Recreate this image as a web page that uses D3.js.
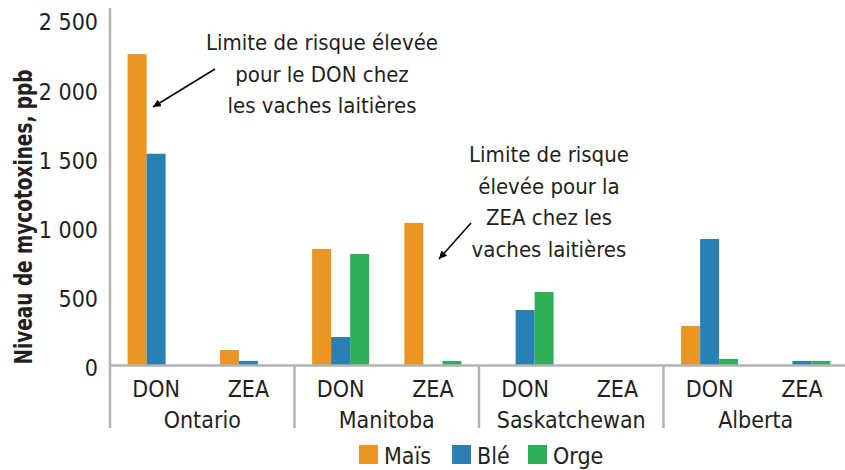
<!DOCTYPE html>
<html>
<head>
<meta charset="utf-8">
<script src="https://cdn.jsdelivr.net/npm/d3@7"></script>
<style>
  body { margin: 0; background: #fff; }
  svg text { font-family: "DejaVu Sans Condensed", "Liberation Sans Narrow", sans-serif; fill: #231f20; }
</style>
</head>
<body>
<div class="chart"></div>
<script>
// data
let provinces = ["Ontario", "Manitoba", "Saskatchewan", "Alberta"];
let toxins = ["DON", "ZEA"];
let series = ["Maïs", "Blé", "Orge"];
let colors = ["#ea9624", "#2880b4", "#2eaf59"];

// values per series, ordered Ontario DON, Ontario ZEA, Manitoba DON, ...
let mais = [2250, 112, 842, 1030, 0, 0, 285, 0];
let ble  = [1530, 33, 206, 0, 401, 0, 914, 33];
let orge = [0, 0, 806, 33, 531, 0, 47, 33];

let yTicks = [0, 500, 1000, 1500, 2000, 2500];
let yTitle = "Niveau de mycotoxines, ppb";

let notes = [
    {lines: ["Limite de risque élevée", "pour le DON chez", "les vaches laitières"]},
    {lines: ["Limite de risque", "élevée pour la", "ZEA chez les", "vaches laitières"]}
];

let width = 845, height = 470;
let margin = {left: 110, top: 8};

let svg = d3.select(".chart").append("svg")
    .attr("width", width)
    .attr("height", height);

// category keys, one per province/toxin pair
let cats = [];
provinces.forEach(p => toxins.forEach(t => cats.push(p + "|" + t)));

let x0 = d3.scaleBand()
    .domain(cats)
    .range([margin.left, 848]);

let barW = 19;
let x1 = d3.scaleBand()
    .domain(series)
    .range([(x0.bandwidth() - 3 * barW) / 2, (x0.bandwidth() + 3 * barW) / 2]);

let y = d3.scaleLinear()
    .domain([0, 2500])
    .range([365.5, 19.5]);

let color = d3.scaleOrdinal().domain(series).range(colors);

let table = cats.map((c, i) => ({cat: c, values: [mais[i], ble[i], orge[i]]}));

// bars
svg.append("g").selectAll("g")
    .data(table)
    .enter()
    .append("g")
    .attr("transform", d => `translate(${x0(d.cat)},0)`)
    .selectAll("rect")
    .data(d => series.map((s, j) => ({key: s, value: d.values[j]})))
    .enter()
    .append("rect")
    .attr("x", d => x1(d.key))
    .attr("width", x1.bandwidth())
    .attr("y", d => y(d.value))
    .attr("height", d => y(0) - y(d.value))
    .attr("fill", d => color(d.key));

// y axis: labels only, no ticks
let yAxis = d3.axisLeft(y)
    .tickValues(yTicks)
    .tickSize(0)
    .tickPadding(12)
    .tickFormat(d => d3.format(",")(d).replace(",", " "));

let gy = svg.append("g")
    .attr("transform", `translate(${margin.left},0)`)
    .call(yAxis);
gy.select(".domain").remove();
gy.selectAll("text")
    .style("font-size", "23px")
    .attr("dy", "0.45em");

// axis lines
let gray = "#b3b3b5";
svg.append("line")
    .attr("x1", margin.left).attr("x2", margin.left)
    .attr("y1", margin.top).attr("y2", 428)
    .attr("stroke", gray).attr("stroke-width", 2.5);
svg.append("line")
    .attr("x1", margin.left).attr("x2", width)
    .attr("y1", y(0)).attr("y2", y(0))
    .attr("stroke", gray).attr("stroke-width", 2.5);

// separators between provinces
svg.append("g").selectAll("line")
    .data(provinces.slice(1))
    .enter()
    .append("line")
    .attr("x1", d => x0(d + "|DON")).attr("x2", d => x0(d + "|DON"))
    .attr("y1", y(0)).attr("y2", 428)
    .attr("stroke", gray).attr("stroke-width", 2.5);

// toxin labels
svg.append("g").selectAll("text")
    .data(cats)
    .enter()
    .append("text")
    .attr("x", d => x0(d) + x0.bandwidth() / 2)
    .attr("y", 397)
    .attr("text-anchor", "middle")
    .style("font-size", "23px")
    .text(d => d.split("|")[1]);

// province labels
svg.append("g").selectAll("text")
    .data(provinces)
    .enter()
    .append("text")
    .attr("x", d => x0(d + "|DON") + x0.bandwidth())
    .attr("y", 428)
    .attr("text-anchor", "middle")
    .style("font-size", "23px")
    .text(d => d);

// y title, squeezed to the length seen in the picture
svg.append("text")
    .attr("transform", "translate(32,217) rotate(-90)")
    .attr("text-anchor", "middle")
    .attr("textLength", 295)
    .attr("lengthAdjust", "spacingAndGlyphs")
    .style("font-size", "25px")
    .style("font-weight", "bold")
    .text(yTitle);

// annotations
svg.append("defs").append("marker")
    .attr("id", "head")
    .attr("viewBox", "0 0 10 10")
    .attr("refX", 10).attr("refY", 5)
    .attr("markerWidth", 8).attr("markerHeight", 8)
    .attr("markerUnits", "userSpaceOnUse")
    .attr("orient", "auto")
    .append("path")
    .attr("d", "M0,0L10,5L0,10Z")
    .attr("fill", "#000");

let notePos = [
    {cx: 322, top: 50, from: [215, 69], to: [153, 107]},
    {cx: 549, top: 162, from: [471, 223], to: [439, 259]}
];

notes.forEach(function (n, i) {
    let p = notePos[i];
    svg.append("text")
        .attr("text-anchor", "middle")
        .style("font-size", "22px")
        .selectAll("tspan")
        .data(n.lines)
        .enter()
        .append("tspan")
        .attr("x", p.cx)
        .attr("y", (d, k) => p.top + k * 31.7)
        .text(d => d);
    svg.append("line")
        .attr("x1", p.from[0]).attr("y1", p.from[1])
        .attr("x2", p.to[0]).attr("y2", p.to[1])
        .attr("stroke", "#000").attr("stroke-width", 1.5)
        .attr("marker-end", "url(#head)");
});

// legend
let legendX = [359, 452, 528];
let legend = svg.append("g").selectAll("g")
    .data(series)
    .enter()
    .append("g")
    .attr("transform", (d, i) => `translate(${legendX[i]},445)`);
legend.append("rect")
    .attr("width", 19).attr("height", 19)
    .attr("fill", d => color(d));
legend.append("text")
    .attr("x", 25).attr("y", 18.5)
    .style("font-size", "23px")
    .text(d => d);
</script>
</body>
</html>
